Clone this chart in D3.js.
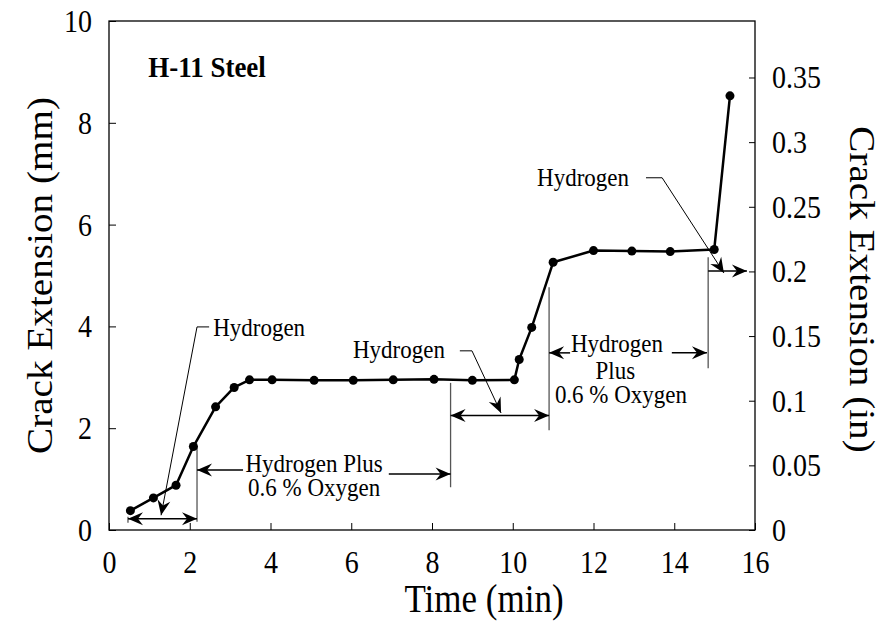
<!DOCTYPE html>
<html>
<head>
<meta charset="utf-8">
<script src="https://cdn.jsdelivr.net/npm/d3@7"></script>
<style>
  body { margin: 0; background: #fff; }
  text { font-family: "Liberation Serif", "Times New Roman", serif; fill: #000; }
</style>
</head>
<body>
<svg id="chart" width="891" height="631"></svg>
<script>
// time (min) vs crack extension (mm)
const times = [0.53, 1.1, 1.66, 2.09, 2.64, 3.1, 3.48, 4.04, 5.08, 6.05, 7.04, 8.05, 9.0, 10.04, 10.16, 10.47, 11.0, 12.0, 12.95, 13.9, 14.99, 15.38];
const extension = [0.38, 0.63, 0.88, 1.64, 2.42, 2.8, 2.95, 2.95, 2.94, 2.94, 2.95, 2.96, 2.94, 2.95, 3.35, 3.98, 5.26, 5.49, 5.48, 5.47, 5.51, 8.53];

const xTicks = [0, 2, 4, 6, 8, 10, 12, 14, 16];
const yTicksMm = [0, 2, 4, 6, 8, 10];
const yTicksIn = [0, 0.05, 0.1, 0.15, 0.2, 0.25, 0.3, 0.35];

// annotation geometry in data units (min, mm)
const boundaries = [
  { x: 0.47, y0: 0.14, y1: 0.26 },
  { x: 2.18, y0: 0.16, y1: 1.65 },
  { x: 8.46, y0: 0.84, y1: 2.89 },
  { x: 10.9, y0: 1.96, y1: 4.77 },
  { x: 14.84, y0: 3.18, y1: 5.36 }
];
const arrows = [
  { x0: 0.47, x1: 2.18, y: 0.22, both: true },
  { x0: 3.32, x1: 2.18, y: 1.18 },
  { x0: 6.93, x1: 8.46, y: 1.1 },
  { x0: 8.46, x1: 10.9, y: 2.25, both: true },
  { x0: 11.42, x1: 10.9, y: 3.48 },
  { x0: 13.94, x1: 14.81, y: 3.48 },
  { x0: 14.84, x1: 15.8, y: 5.09 }
];
const leaders = [
  [[2.48, 3.99], [2.18, 3.99], [1.29, 0.29]],
  [[8.69, 3.52], [8.99, 3.52], [9.71, 2.3]],
  [[13.3, 6.92], [13.7, 6.92], [15.23, 5.05]]
];
const labels = [
  { t: 'Hydrogen', x: 2.58, y: 3.97, a: 'start' },
  { t: 'Hydrogen', x: 8.32, y: 3.54, a: 'end' },
  { t: 'Hydrogen', x: 12.88, y: 6.92, a: 'end' },
  { t: 'Hydrogen Plus', x: 5.08, y: 1.3, a: 'middle' },
  { t: '0.6 % Oxygen', x: 5.08, y: 0.84, a: 'middle' },
  { t: 'Hydrogen', x: 12.58, y: 3.67, a: 'middle' },
  { t: 'Plus', x: 12.54, y: 3.14, a: 'middle' },
  { t: '0.6 % Oxygen', x: 12.68, y: 2.67, a: 'middle' }
];

const svg = d3.select('#chart');
const mLeft = 109, mRight = 755, mTop = 21, mBottom = 530;
const k = 1.12; // glyphs in the picture are a little taller than wide

const x = d3.scaleLinear().domain([0, 16]).range([mLeft, mRight]);
const y = d3.scaleLinear().domain([0, 10]).range([mBottom, mTop]);
const yIn = d3.scaleLinear().domain([0, 10 / 25.4]).range([mBottom, mTop]);

// move x/y into a transform so the text can be stretched vertically
function stretch(sel) {
  sel.each(function () {
    const t = d3.select(this);
    const tx = +t.attr('x') || 0, ty = +t.attr('y') || 0;
    t.attr('x', 0).attr('y', 0)
      .attr('transform', `translate(${tx},${ty}) scale(1,${k})`);
  });
}

// arrowhead
svg.append('defs').append('marker')
  .attr('id', 'head')
  .attr('viewBox', '-16 -8 18 16')
  .attr('refX', 0).attr('refY', 0)
  .attr('markerUnits', 'userSpaceOnUse')
  .attr('markerWidth', 18).attr('markerHeight', 16)
  .attr('orient', 'auto-start-reverse')
  .append('path')
  .attr('d', 'M0,0 L-15,-6.5 L-10,0 L-15,6.5 Z')
  .attr('fill', '#000');

// frame
svg.append('rect')
  .attr('x', mLeft).attr('y', mTop)
  .attr('width', mRight - mLeft).attr('height', mBottom - mTop)
  .attr('fill', 'none').attr('stroke', '#000').attr('stroke-width', 1.3);

// axes with inward ticks
const gx = svg.append('g').attr('transform', `translate(0,${mBottom})`)
  .call(d3.axisBottom(x).tickValues(xTicks).tickSize(-7).tickFormat(d3.format('d')));
const gy = svg.append('g').attr('transform', `translate(${mLeft},0)`)
  .call(d3.axisLeft(y).tickValues(yTicksMm).tickSize(-7).tickPadding(17).tickFormat(d3.format('d')));
const gr = svg.append('g').attr('transform', `translate(${mRight},0)`)
  .call(d3.axisRight(yIn).tickValues(yTicksIn).tickSize(-6).tickPadding(17).tickFormat(d => d === 0 ? '0' : String(d)));

[gx, gy, gr].forEach(g => {
  g.select('.domain').remove();
  g.selectAll('.tick line').attr('stroke', '#000').attr('stroke-width', 1);
  g.selectAll('.tick text').attr('font-size', 28).attr('font-family', 'Liberation Serif').attr('dy', 0);
});
gx.selectAll('.tick text').attr('y', 43);
gy.selectAll('.tick text').attr('y', 10.5);
gr.selectAll('.tick text').attr('y', 10.5);
[gx, gy, gr].forEach(g => stretch(g.selectAll('.tick text')));

// axis titles
svg.append('text')
  .attr('x', 484).attr('y', 612)
  .attr('text-anchor', 'middle').attr('font-size', 35)
  .text('Time (min)')
  .call(stretch);
svg.append('text')
  .attr('transform', `translate(52,${(mTop + mBottom) / 2}) rotate(-90) scale(${k},1)`)
  .attr('text-anchor', 'middle').attr('font-size', 35)
  .text('Crack Extension (mm)');
svg.append('text')
  .attr('transform', `translate(850,${(mTop + mBottom) / 2 + 14}) rotate(90) scale(${k},1)`)
  .attr('text-anchor', 'middle').attr('font-size', 35)
  .text('Crack Extension (in)');

// title
svg.append('text')
  .attr('x', x(0.97)).attr('y', y(9.1) + 10)
  .attr('font-size', 27).attr('font-weight', 'bold')
  .text('H-11 Steel')
  .call(stretch);

// annotations
const ann = svg.append('g');
ann.selectAll('line.bound')
  .data(boundaries)
  .enter()
  .append('line')
  .attr('class', 'bound')
  .attr('x1', d => x(d.x)).attr('x2', d => x(d.x))
  .attr('y1', d => y(d.y0)).attr('y2', d => y(d.y1))
  .attr('stroke', '#555').attr('stroke-width', 1.3);

ann.selectAll('line.arrow')
  .data(arrows)
  .enter()
  .append('line')
  .attr('class', 'arrow')
  .attr('x1', d => x(d.x0)).attr('x2', d => x(d.x1))
  .attr('y1', d => y(d.y)).attr('y2', d => y(d.y))
  .attr('stroke', '#000').attr('stroke-width', 1.5)
  .attr('marker-end', 'url(#head)')
  .attr('marker-start', d => d.both ? 'url(#head)' : null);

const leaderLine = d3.line().x(d => x(d[0])).y(d => y(d[1]));
ann.selectAll('path.leader')
  .data(leaders)
  .enter()
  .append('path')
  .attr('class', 'leader')
  .attr('d', leaderLine)
  .attr('fill', 'none').attr('stroke', '#000').attr('stroke-width', 1)
  .attr('marker-end', 'url(#head)');

ann.selectAll('text.lab')
  .data(labels)
  .enter()
  .append('text')
  .attr('class', 'lab')
  .attr('x', d => x(d.x)).attr('y', d => y(d.y) + 8.5)
  .attr('text-anchor', d => d.a)
  .attr('font-size', 23)
  .text(d => d.t)
  .call(stretch);

// data line and points
const pts = times.map((t, i) => [t, extension[i]]);
svg.append('path')
  .datum(pts)
  .attr('d', d3.line().x(d => x(d[0])).y(d => y(d[1])))
  .attr('fill', 'none').attr('stroke', '#000').attr('stroke-width', 2.5)
  .attr('stroke-linejoin', 'round');
svg.append('g')
  .selectAll('circle')
  .data(pts)
  .enter()
  .append('circle')
  .attr('cx', d => x(d[0])).attr('cy', d => y(d[1]))
  .attr('r', 4.5).attr('fill', '#000');
</script>
</body>
</html>
